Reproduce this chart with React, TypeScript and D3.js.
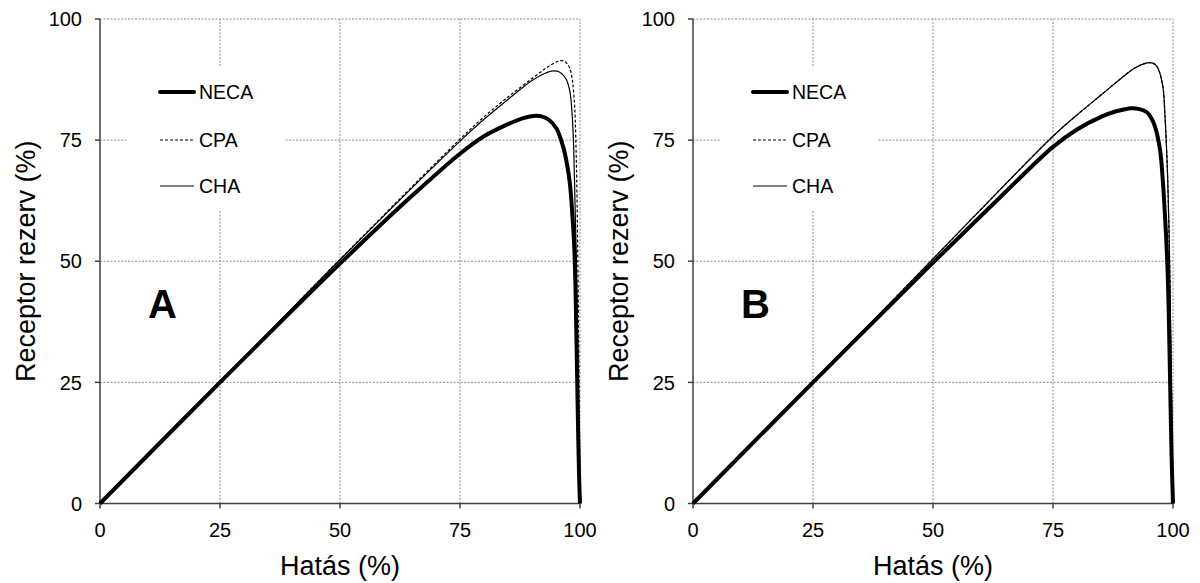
import React, { useEffect, useRef } from "react";
import * as d3 from "d3";

const WIDTH = 1200;
const HEIGHT = 583;

const tickValues = [0, 25, 50, 75, 100];
const seriesNames = ["NECA", "CPA", "CHA"];
const panelLabels = ["A", "B"];

// [hatás %, receptor rezerv %]
const necaA = [
  [0, 0], [25, 25], [50, 49.5], [65, 63.5], [75, 72.2], [80, 75.8], [85, 78.3],
  [88, 79.5], [90.3, 80], [92, 79.9], [93.5, 79.2], [95.1, 77.4], [96.5, 73.6],
  [97.3, 70], [97.9, 66], [98.45, 59], [98.8, 53], [99.05, 45], [99.3, 32],
  [99.55, 18], [99.8, 6], [100, 0],
];
const cpaA = [
  [0, 0], [25, 25], [50, 50.4], [75, 75.2], [80, 79.8], [85, 83.9], [90, 87.7],
  [93, 89.9], [94.8, 91], [95.8, 91.4], [96.7, 91.3], [97.3, 90.8], [97.9, 89.8],
  [98.4, 87.4], [98.75, 84], [99, 79.2], [99.2, 72.3], [99.35, 65], [99.55, 50],
  [99.75, 30], [99.9, 12], [100, 0],
];
const chaA = [
  [0, 0], [25, 25], [50, 50.3], [75, 74.8], [80, 79.3], [85, 83.4], [90, 87.3],
  [92.5, 88.7], [94.4, 89.3], [95.6, 89.1], [96.5, 88.4], [97.2, 87.4], [97.9, 85],
  [98.3, 81.2], [98.6, 75.7], [98.85, 66.8], [99.2, 52], [99.5, 32], [99.8, 12], [100, 0],
];

const necaB = [
  [0, 0], [25, 25], [50, 49.7], [65, 64.2], [75, 73.6], [80, 77.2], [85, 79.8],
  [88, 80.9], [91.4, 81.6], [93, 81.4], [94.5, 80.8], [95.5, 79.5], [96.25, 77.8],
  [97.3, 73], [97.85, 67], [98.3, 60], [98.8, 50], [99.1, 40], [99.4, 25],
  [99.7, 10], [100, 0],
];
const cpaB = [
  [0, 0], [25, 25], [50, 50.5], [75, 75.8], [80, 80.2], [85, 84.3], [90, 88.4],
  [92.4, 90.1], [95.2, 91], [96.3, 90.6], [96.9, 89.8], [97.9, 86], [98.3, 80.5],
  [98.7, 72.3], [98.9, 66.8], [99.2, 55], [99.45, 40], [99.65, 25], [99.85, 10], [100, 0],
];
const chaB = [
  [0, 0], [25, 25], [50, 50.5], [75, 75.8], [80, 80.2], [85, 84.3], [90, 88.4],
  [92.4, 90.1], [95.2, 91], [96.3, 90.6], [96.9, 89.8], [97.9, 86], [98.3, 80.5],
  [98.7, 72.3], [98.9, 66.8], [99.2, 55], [99.45, 40], [99.65, 25], [99.85, 10], [100, 0],
];

const lineStyles = {
  NECA: { width: 4, dash: null },
  CPA: { width: 1.2, dash: "3,2" },
  CHA: { width: 1.2, dash: null },
};

const panels = [
  { left: 100, right: 580, label: panelLabels[0], series: { NECA: necaA, CPA: cpaA, CHA: chaA } },
  { left: 693, right: 1173, label: panelLabels[1], series: { NECA: necaB, CPA: cpaB, CHA: chaB } },
];

const FONT = "'Liberation Sans', Arial, sans-serif";

const App = () => {
  const ref = useRef<SVGSVGElement>(null);

  useEffect(() => {
    const svg = d3.select(ref.current);
    svg.selectAll("*").remove();

    const top = 19;
    const bottom = 503.5;

    panels.forEach((p) => {
      const x = d3.scaleLinear().domain([0, 100]).range([p.left, p.right]);
      const y = d3.scaleLinear().domain([0, 100]).range([bottom, top]);
      const g = svg.append("g");

      // dotted grid
      tickValues.slice(1).forEach((t) => {
        g.append("line")
          .attr("x1", x(0)).attr("x2", x(100))
          .attr("y1", y(t)).attr("y2", y(t))
          .style("stroke", "#8c8c8c").style("stroke-width", 1)
          .style("stroke-dasharray", "2,1.5");
        g.append("line")
          .attr("x1", x(t)).attr("x2", x(t))
          .attr("y1", y(0)).attr("y2", y(100))
          .style("stroke", "#8c8c8c").style("stroke-width", 1)
          .style("stroke-dasharray", "2,1.5");
      });

      // legend background
      g.append("rect")
        .attr("x", p.left + 28).attr("y", 67)
        .attr("width", 156).attr("height", 144)
        .style("fill", "white");

      // axes
      g.append("line")
        .attr("x1", x(0)).attr("x2", x(0)).attr("y1", y(0)).attr("y2", y(100))
        .style("stroke", "#404040").style("stroke-width", 1.5);
      g.append("line")
        .attr("x1", x(0)).attr("x2", x(100)).attr("y1", y(0)).attr("y2", y(0))
        .style("stroke", "#404040").style("stroke-width", 1.5);

      tickValues.forEach((t) => {
        g.append("line")
          .attr("x1", x(0) - 5).attr("x2", x(0)).attr("y1", y(t)).attr("y2", y(t))
          .style("stroke", "#404040").style("stroke-width", 1.5);
        g.append("line")
          .attr("x1", x(t)).attr("x2", x(t)).attr("y1", y(0)).attr("y2", y(0) + 5)
          .style("stroke", "#404040").style("stroke-width", 1.5);
        g.append("text")
          .attr("x", x(0) - 18).attr("y", y(t)).attr("dy", "0.36em")
          .attr("text-anchor", "end")
          .style("font-family", FONT).style("font-size", "20px")
          .text(t);
        g.append("text")
          .attr("x", x(t)).attr("y", 537)
          .attr("text-anchor", "middle")
          .style("font-family", FONT).style("font-size", "20px")
          .text(t);
      });

      // axis titles
      g.append("text")
        .attr("x", (x(0) + x(100)) / 2).attr("y", 575)
        .attr("text-anchor", "middle")
        .style("font-family", FONT).style("font-size", "27px")
        .text("Hatás (%)");
      g.append("text")
        .attr("transform", `translate(${x(0) - 65},${(y(0) + y(100)) / 2}) rotate(-90)`)
        .attr("text-anchor", "middle")
        .style("font-family", FONT).style("font-size", "27px")
        .text("Receptor rezerv (%)");

      // curves
      const line = d3
        .line<number[]>()
        .x((d) => x(d[0]))
        .y((d) => y(d[1]))
        .curve(d3.curveCatmullRom.alpha(0.5));

      ["CPA", "CHA", "NECA"].forEach((name) => {
        const st = lineStyles[name];
        g.append("path")
          .datum(p.series[name])
          .attr("d", line)
          .style("fill", "none")
          .style("stroke", "black")
          .style("stroke-width", st.width)
          .style("stroke-dasharray", st.dash)
          .style("stroke-linejoin", "round");
      });

      // legend
      const legendY = [92, 140, 186];
      seriesNames.forEach((name, i) => {
        const st = lineStyles[name];
        g.append("line")
          .attr("x1", p.left + 60).attr("x2", p.left + 94)
          .attr("y1", legendY[i]).attr("y2", legendY[i])
          .style("stroke", "black")
          .style("stroke-width", st.width)
          .style("stroke-dasharray", st.dash)
          .style("stroke-linecap", name === "NECA" ? "round" : "butt");
        g.append("text")
          .attr("x", p.left + 99).attr("y", legendY[i]).attr("dy", "0.36em")
          .style("font-family", FONT).style("font-size", "19.5px")
          .text(name);
      });

      // panel letter
      g.append("text")
        .attr("x", p.left + 62.5).attr("y", 318)
        .attr("text-anchor", "middle")
        .style("font-family", FONT).style("font-size", "40px")
        .style("font-weight", "bold")
        .text(p.label);
    });
  }, []);

  return (
    <svg
      ref={ref}
      width={WIDTH}
      height={HEIGHT}
      style={{ position: "absolute", left: 0, top: 0, background: "white" }}
    ></svg>
  );
};

export default App;
